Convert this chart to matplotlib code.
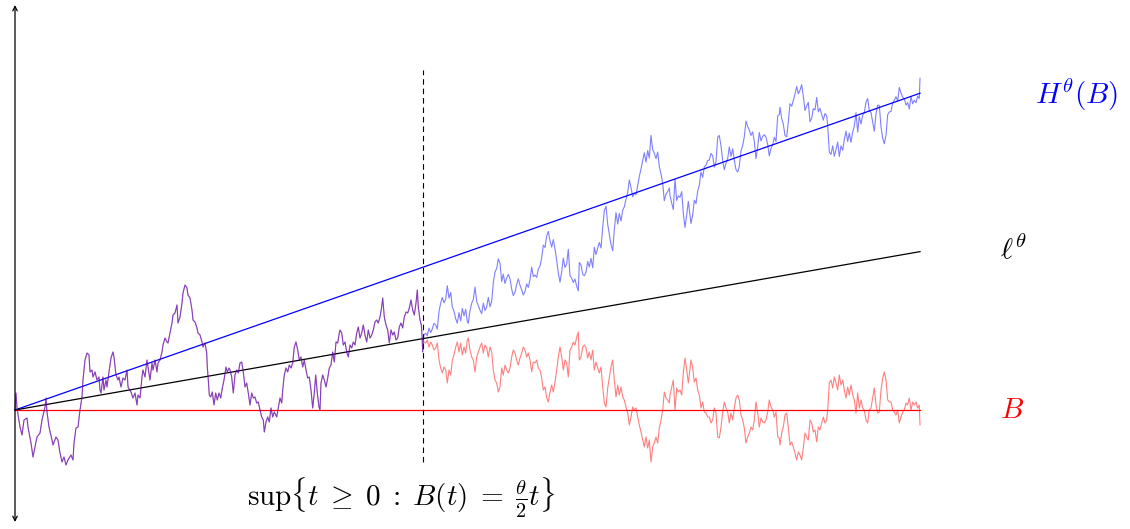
import numpy as np
import matplotlib.pyplot as plt

plt.rcParams['mathtext.fontset'] = 'cm'
plt.rcParams['font.family'] = 'serif'

# slope of the line H^theta(B) is theta, l^theta has slope theta/2
theta = 0.35
tau = 408.3
t_end = 905

# Brownian path B(t)
t_vals = [0, 1, 2, 5, 7, 9, 12, 13, 16, 18, 20, 22, 25, 27, 30, 31, 32, 34, 37, 38,
          41, 43, 45, 47, 49, 51, 53, 56, 58, 59, 61, 63, 65, 67, 68, 70, 72, 74, 75, 77,
          78, 80, 82, 84, 85, 86, 88, 89, 91, 92, 94, 96, 98, 99, 101, 103, 104, 106, 108, 110,
          112, 113, 116, 118, 120, 122, 123, 125, 127, 128, 130, 132, 133, 135, 137, 138, 140, 142, 143, 145,
          147, 148, 150, 152, 153, 155, 157, 158, 160, 162, 163, 165, 167, 168, 170, 172, 173, 175, 177, 178,
          180, 182, 183, 185, 187, 188, 190, 191.7, 192.3, 193.3, 194.3, 195.7, 197.3, 199, 200.7, 202.3, 204, 205.7, 207.3, 209,
          211, 212.3, 214, 215, 216.7, 218.3, 220, 221.7, 223.3, 225, 226.7, 228.3, 230, 231.7, 233.3, 235, 236.7, 238.3, 240, 241.7,
          243.3, 245, 246.7, 248.3, 249.3, 251, 252.7, 254.3, 256, 257.7, 259.3, 261.7, 263.3, 265, 266.7, 267.7, 269.3, 271, 272.7, 274.3,
          276, 277.7, 279.3, 281, 282.7, 284.3, 286, 287.7, 289.3, 291, 292.7, 294.3, 296, 297.7, 299.3, 300.7, 302.3, 304, 305, 306,
          307.7, 309.3, 311, 312.7, 314.3, 316, 317.7, 319.3, 321, 322.7, 324.3, 325, 326.7, 328.3, 330, 331.7, 333.3, 335, 336.7, 338.3,
          340, 341.7, 343.3, 345, 346.7, 348.3, 350, 351.7, 353.3, 355, 356.7, 358.3, 360, 361.7, 363.3, 365, 366.7, 367.7, 369.3, 371,
          372.7, 374.3, 376, 377.7, 379.3, 381, 382.7, 384.3, 386, 387.7, 389.3, 391, 392.7, 394.3, 396, 397.7, 399.3, 401, 402.3, 403.3,
          405, 406.3, 407, 407.7, 408.3,
          409, 410.7, 412.3, 414, 415.7, 417.3, 419, 420.7, 422.3, 424, 425.7, 427.3, 429, 430.7, 432.3, 434, 435.7, 437.3, 439, 440.7,
          442.3, 444, 445.7, 447.3, 449, 450.7, 452.3, 453.3, 455, 456.7, 458.3, 460, 461.7, 463.3, 465, 466.7, 468.3, 470, 471.7, 473.3,
          475, 476.7, 478.3, 480, 481.7, 483.3, 485, 486.7, 488.3, 490, 491.7, 493.3, 495, 496.7, 498.3, 500, 501.7, 503.3, 505, 506.7,
          508.3, 510, 511.7, 513.3, 515, 516.7, 518.3, 520, 521.7, 523.3, 525, 526.7, 528.3, 530, 531.7, 533.3, 535, 536.7, 538.3, 540,
          541.7, 543.3, 545, 546.7, 548.3, 550, 551.7, 553.3, 555, 556.7, 558.3, 560, 561.7, 563.3, 564.3, 566, 567.7, 569.3, 571, 572.7,
          574.3, 576, 577.7, 579.3, 581, 582.7, 584.3, 586, 587.7, 589.3, 591, 592.7, 594.3, 596, 597.7, 599.3, 601, 602.7, 604.3, 606,
          607.7, 609.3, 611, 612.7, 614.3, 616, 617.7, 619.3, 621, 622.7, 624.3, 626, 627.7, 629.3, 631, 632.7, 634.3, 636, 637.7, 639.3,
          641, 642.7, 644.3, 646, 647.7, 649.3, 651, 652.7, 654.3, 655, 656.7, 658.3, 660, 661.7, 663.3, 665, 666.7, 668.3, 670, 671.7,
          673.3, 675, 676, 677.7, 679.3, 681, 682.7, 684.3, 686, 687.7, 689.3, 691, 692.7, 694.3, 696, 697.7, 699.3, 701, 702.7, 704.3,
          706, 707.7, 709.3, 711, 712.7, 714.3, 716, 717.7, 719.3, 721, 722.7, 724.3, 726, 727.7, 729.3, 731, 732.7, 734.3, 736, 737.7,
          739.3, 741, 742.7, 744.3, 746, 747.7, 749.3, 751, 752.7, 754.3, 756, 757.7, 759.3, 761, 762.7, 764.3, 765, 766.7, 768.3, 770,
          771.7, 773.3, 775, 776.7, 778.3, 780, 781.7, 783.3, 785, 786.7, 788.3, 790, 791.7, 793.3, 795, 796.7, 798.3, 800, 801.7, 803.3,
          805, 806.7, 808.3, 810, 811.7, 812.7, 814.3, 816, 817.7, 819.3, 821, 822.7, 824.3, 826, 827.7, 829.3, 831, 832.7, 834.3, 836,
          837.7, 839.3, 841, 842.7, 844.3, 846, 847.7, 849.3, 851, 852.7, 854.3, 856, 857.7, 859.3, 861, 862.7, 864.3, 866, 867.7, 869.3,
          871, 872.7, 874.3, 876, 877.7, 879.3, 881, 882.7, 884.3, 886, 887.7, 889.3, 891, 892.7, 894.3, 896, 897.7, 899.3, 901, 902.7,
          904.3, 905]
b_vals = [0, 17, 2, -17, -25, -10, -8, -17, -33, -47, -37, -27, -23, -10, 3, 12, -2, -17, -30, -35,
          -27, -30, -43, -52, -47, -55, -50, -45, -50, -33, -18, -17, 0, 13, 30, 50, 57, 55, 38, 40,
          33, 38, 30, 33, 20, 17, 33, 20, 30, 23, 38, 52, 58, 53, 35, 30, 33, 23, 32, 30,
          40, 23, 18, 12, 17, 5, 15, 12, 33, 40, 33, 50, 43, 30, 47, 40, 50, 38, 47, 50,
          58, 65, 72, 68, 67, 77, 87, 95, 97, 105, 87, 93, 107, 117, 125, 122, 115, 112, 100, 90,
          88, 82, 77, 75, 68, 63, 67, 57, 43, 30, 15, 13, 18, 5, 17, 10, 17, 12, 22, 30,
          43, 38, 42, 40, 33, 17, 35, 40, 37, 47, 48, 38, 23, 27, 17, 5, 17, 12, 13, 7,
          8, 0, -7, -10, -22, -12, -7, -12, 2, -7, -2, -7, 2, 12, 7, 20, 35, 42, 38, 45,
          42, 47, 63, 68, 60, 50, 53, 43, 50, 40, 32, 33, 20, 2, 17, 35, 17, 3, 0, 27,
          35, 30, 23, 32, 42, 45, 58, 48, 68, 67, 77, 80, 77, 65, 68, 58, 53, 65, 62, 68,
          65, 77, 83, 72, 77, 85, 75, 68, 80, 72, 75, 80, 88, 90, 87, 93, 103, 112, 93, 85,
          80, 67, 80, 75, 78, 70, 72, 83, 87, 82, 93, 98, 97, 102, 110, 100, 95, 107, 120, 103,
          90, 85, 75, 58, 71.45,
          68, 67, 70, 63, 68, 65, 60, 62, 67, 50, 42, 37, 43, 40, 27, 40, 35, 50, 55, 63,
          68, 58, 67, 55, 63, 57, 70, 72, 60, 53, 50, 38, 53, 58, 63, 67, 57, 65, 62, 53,
          63, 58, 40, 30, 27, 18, 23, 42, 35, 45, 40, 37, 42, 53, 60, 57, 50, 45, 52, 57,
          63, 60, 53, 57, 50, 38, 48, 47, 50, 42, 40, 32, 20, 23, 12, 8, 18, 25, 18, 28,
          40, 53, 63, 53, 40, 50, 47, 33, 60, 63, 68, 65, 73, 78, 50, 53, 63, 65, 62, 52,
          58, 50, 60, 40, 48, 42, 37, 43, 23, 7, 3, 22, 32, 43, 50, 30, 13, 25, 15, 23,
          13, 10, 3, -3, -15, -7, 3, 0, 2, -7, -15, -22, -30, -37, -27, -38, -30, -52, -37, -33,
          -27, -33, -18, -10, 0, 18, 12, 10, 7, 15, 23, 30, 0, 22, 18, 20, 15, 37, 52, 40,
          27, 42, 50, 42, 28, 32, 20, 15, 2, 8, -2, -3, -7, -7, -13, -10, 2, -3, -27, -28,
          -17, -2, 8, 2, -2, -13, -3, -10, 2, 12, 15, 10, -5, -10, -18, -33, -27, -23, -17, -20,
          -10, 8, -3, -17, -8, -12, -13, -10, -2, 10, 3, 0, -7, -2, -27, -28, -35, -23, -17, -5,
          -3, -17, -35, -32, -37, -43, -50, -42, -45, -50, -38, -23, -27, -30, -10, -13, -22, -20, -32, -17,
          -20, -13, -7, -13, -10, 0, 27, 30, 22, 33, 27, 20, 35, 25, 30, 20, 12, 23, 15, 25,
          15, 10, -3, 17, 2, 10, 2, 0, -10, -13, 0, 2, 12, 22, 5, -3, -2, 20, 32, 38,
          30, 10, 8, 8, 0, -2, -5, 0, -13, -7, -2, 0, 7, 5, 12, 0, 8, 5, 8, 2,
          5, -15]

t = np.array(t_vals, dtype=float)
B = np.array(b_vals, dtype=float)
# H^theta(B): equal to B up to tau, reflected in the line theta*t/2 after it
H = np.where(t <= tau, B, theta * t - B)

fig = plt.figure(figsize=(11.3, 5.29), dpi=100)
ax = fig.add_axes([0, 0, 1, 1])
ax.set_xlim(-15, 1115)
ax.set_ylim(-119, 410)
ax.axis('off')

# straight lines
ax.plot([0, t_end], [0, 0], color='red', lw=0.9)
ax.plot([0, t_end], [0, theta * t_end], color='blue', lw=0.9)
ax.plot([0, t_end], [0, theta / 2 * t_end], color='black', lw=0.9)

# paths, half transparent so the common part looks purple
ax.plot(t, B, color='red', alpha=0.5, lw=0.8)
ax.plot(t, H, color='blue', alpha=0.5, lw=0.8)

# dashed line at tau
ax.plot([tau, tau], [-52, 340], color='black', lw=0.8, dashes=(5, 3.5))

# vertical axis with arrows at both ends
ax.annotate('', xy=(0, 405), xytext=(0, -112),
            arrowprops=dict(arrowstyle='<->', lw=0.9, color='black',
                            shrinkA=0, shrinkB=0, mutation_scale=8))

ax.text(1020, 315, r'$H^\theta(B)$', color='blue', fontsize=21, ha='left', va='center')
ax.text(985, 160, r'$\ell^\theta$', color='black', fontsize=21, ha='left', va='center')
ax.text(997, 0, r'$B$', color='red', fontsize=21, ha='center', va='center')
ax.text(386, -88, r'$\sup\{t\;\geq\;0\;:\;B(t)\;=\;\frac{\theta}{2}t\}$', color='black',
        fontsize=21, ha='center', va='center')

fig.savefig('out.png', dpi=100)
